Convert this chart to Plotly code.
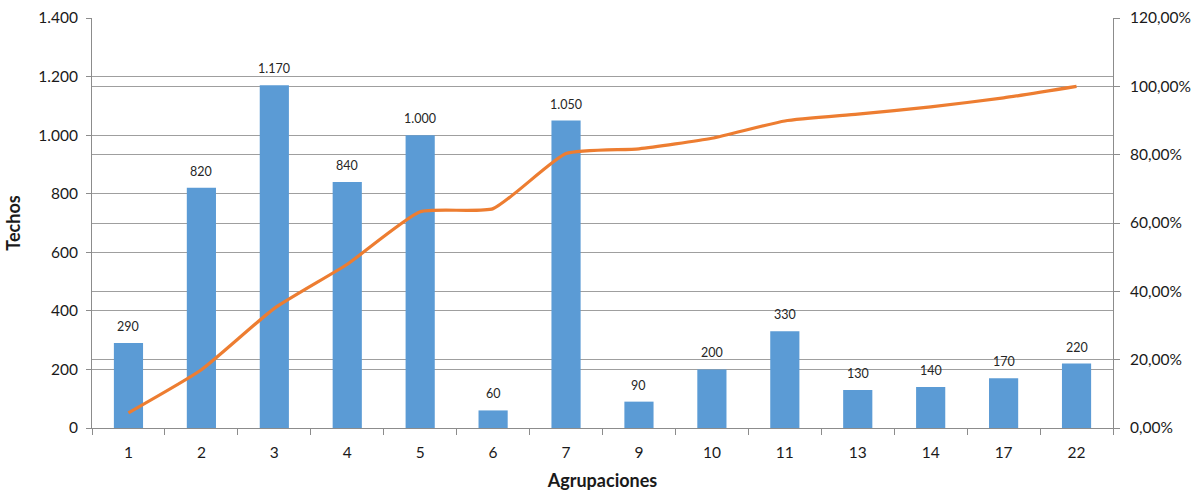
import plotly.graph_objects as go

# Pareto data: roof counts per grouping and cumulative share
agrupaciones = ["1", "2", "3", "4", "5", "6", "7", "9", "10", "11", "13", "14", "17", "22"]
techos = [290, 820, 1170, 840, 1000, 60, 1050, 90, 200, 330, 130, 140, 170, 220]

total = sum(techos)
acumulado = []
running = 0
for v in techos:
    running += v
    acumulado.append(running / total)

FONT = "Lato, 'Open Sans', sans-serif"
GRID = "#9f9f9f"
AXIS = "#8c8c8c"

fig = go.Figure()

fig.add_trace(go.Bar(
    x=agrupaciones, y=techos,
    marker=dict(color="#5B9BD5", line=dict(width=0)),
    width=0.4, showlegend=False, hoverinfo="x+y",
))

fig.add_trace(go.Scatter(
    x=agrupaciones, y=acumulado, yaxis="y2", mode="lines",
    line=dict(color="#ED7D31", width=3.2, shape="spline", smoothing=0.5),
    showlegend=False,
))

# value labels above each bar (category axis positions are indices)
for i, v in enumerate(techos):
    fig.add_annotation(
        x=i, y=v, xref="x", yref="y", yanchor="bottom", yshift=7,
        text=f"{v:,}".replace(",", "."), showarrow=False,
        font=dict(family=FONT, size=12.5, color="#262626"),
    )

fig.update_layout(
    width=1193, height=494,
    margin=dict(l=92, r=80, t=18, b=66),
    paper_bgcolor="white", plot_bgcolor="white",
    separators=",.",
    font=dict(family=FONT, color="#1a1a1a"),
    xaxis=dict(
        type="category", range=[-0.5, len(agrupaciones) - 0.5],
        tickson="boundaries", ticks="outside", ticklen=6,
        tickcolor=AXIS, showline=True, linecolor=AXIS, linewidth=1,
        showgrid=False, tickfont=dict(size=15.5, family=FONT),
        ticklabelstandoff=10, automargin=False,
        title=dict(text="<b>Agrupaciones</b>", font=dict(size=18, family=FONT), standoff=14),
    ),
    yaxis=dict(
        range=[0, 1400], dtick=200, tickformat=",d",
        showgrid=True, gridcolor=GRID, gridwidth=1,
        showline=True, linecolor=AXIS, linewidth=1,
        ticks="outside", ticklen=5, tickcolor=AXIS,
        tickfont=dict(size=15.5, family=FONT), zeroline=False,
        ticklabelstandoff=5, automargin=False,
        title=dict(text="<b>Techos</b>", font=dict(size=18, family=FONT), standoff=12),
    ),
    yaxis2=dict(
        overlaying="y", side="right", range=[0, 1.2], dtick=0.2,
        tickformat=".2%", showgrid=True, gridcolor=GRID, gridwidth=1,
        showline=True, linecolor=AXIS, linewidth=1,
        ticks="outside", ticklen=6, tickcolor=AXIS,
        tickfont=dict(size=15.5, family=FONT), zeroline=False,
        ticklabelstandoff=7, automargin=False,
    ),
)

fig.write_html("out.html")
